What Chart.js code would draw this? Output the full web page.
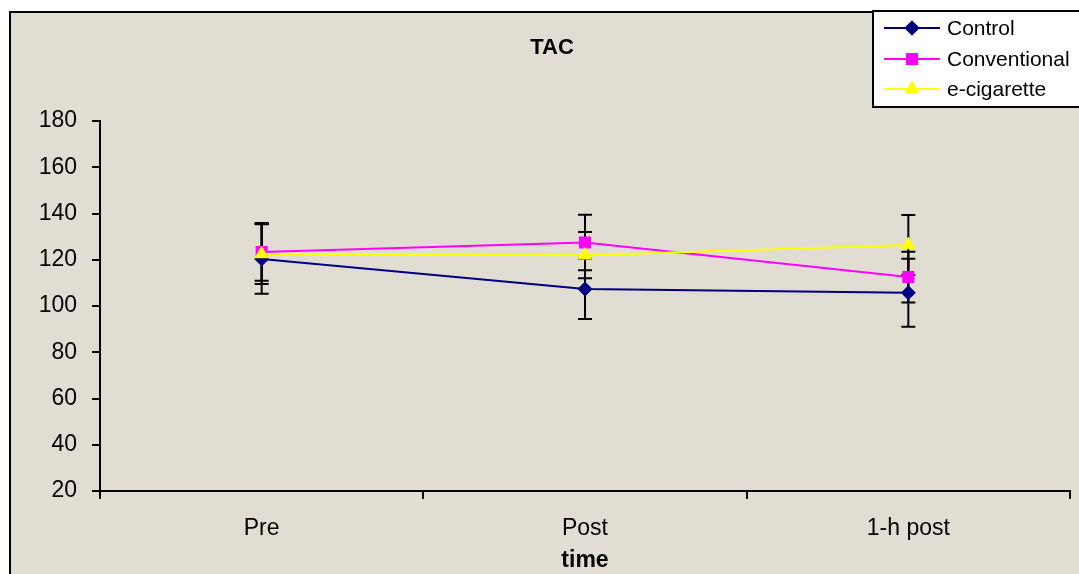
<!DOCTYPE html>
<html>
<head>
<meta charset="utf-8">
<script src="https://cdn.jsdelivr.net/npm/chart.js@4"></script>
<style>
  html, body { margin: 0; padding: 0; background: #fff; }
  #wrap { width: 1079px; height: 574px; position: relative; }
</style>
</head>
<body>
<div id="wrap"><canvas id="chartTAC" width="1079" height="574"></canvas></div>
<script>
// TAC over time, three groups
const timeLabels = ["Pre", "Post", "1-h post"];
const seriesNames = ["Control", "Conventional", "e-cigarette"];
const controlValues = [120.3, 107.4, 105.7];
const conventionalValues = [123.4, 127.5, 112.5];
const ecigValues = [122.5, 122, 126.4];
const controlErr = [15, 13, 14.7];
const conventionalErr = [12.5, 12, 11];
const ecigErr = [13, 10, 13];
const yTicks = [20, 40, 60, 80, 100, 120, 140, 160, 180];

const FONT = "Arial, 'Liberation Sans', sans-serif";

const styles = [
  { color: "#000080", point: "rectRot", radius: 7.5 },
  { color: "#ff00ff", point: "rect", radius: 8.5 },
  { color: "#ffff00", point: "triangle", radius: 8.5 }
];

const allValues = [controlValues, conventionalValues, ecigValues];
const allErr = [controlErr, conventionalErr, ecigErr];

/* background + frame */
const frame = {
  id: "frame",
  beforeDraw(chart) {
    const ctx = chart.ctx;
    ctx.save();
    ctx.fillStyle = "#ffffff";
    ctx.fillRect(0, 0, chart.width, chart.height);
    ctx.fillStyle = "#e2ddd2";
    ctx.fillRect(10, 12, chart.width, chart.height);
    ctx.strokeStyle = "#000";
    ctx.lineWidth = 2;
    ctx.beginPath();
    ctx.moveTo(10, chart.height + 5);
    ctx.lineTo(10, 12);
    ctx.lineTo(chart.width + 5, 12);
    ctx.stroke();
    ctx.restore();
  }
};

/* error bars, drawn under the markers */
const errorBars = {
  id: "errorBars",
  beforeDatasetsDraw(chart) {
    const ctx = chart.ctx;
    const x = chart.scales.x, y = chart.scales.y;
    ctx.save();
    ctx.strokeStyle = "#000";
    ctx.lineWidth = 2;
    allValues.forEach((vals, s) => {
      vals.forEach((v, i) => {
        const px = x.getPixelForValue(i);
        const top = y.getPixelForValue(v + allErr[s][i]);
        const bot = y.getPixelForValue(v - allErr[s][i]);
        ctx.beginPath();
        ctx.moveTo(px, top); ctx.lineTo(px, bot);
        ctx.moveTo(px - 7, top); ctx.lineTo(px + 7, top);
        ctx.moveTo(px - 7, bot); ctx.lineTo(px + 7, bot);
        ctx.stroke();
      });
    });
    ctx.restore();
  }
};

/* title, axis title, legend box */
const decorations = {
  id: "decorations",
  afterDraw(chart) {
    const ctx = chart.ctx;
    ctx.save();
    ctx.fillStyle = "#000";
    ctx.textAlign = "center";
    ctx.textBaseline = "middle";
    ctx.font = "bold 22px " + FONT;
    ctx.fillText("TAC", 552, 48);
    ctx.font = "bold 23px " + FONT;
    ctx.fillText("time", 585, 561);

    // legend
    ctx.fillStyle = "#ffffff";
    ctx.fillRect(873, 11, 210, 96);
    ctx.strokeStyle = "#000";
    ctx.lineWidth = 2;
    ctx.strokeRect(873, 11, 210, 96);
    const rows = [28, 59, 89];
    seriesNames.forEach((name, i) => {
      const st = styles[i];
      ctx.strokeStyle = st.color;
      ctx.lineWidth = 2;
      ctx.beginPath();
      ctx.moveTo(884, rows[i]); ctx.lineTo(940, rows[i]);
      ctx.stroke();
      ctx.fillStyle = st.color;
      Chart.helpers.drawPoint(ctx, { pointStyle: st.point, radius: st.radius, borderWidth: 0, rotation: 0 }, 912, rows[i]);
      ctx.fill();
      ctx.fillStyle = "#000";
      ctx.font = "21px " + FONT;
      ctx.textAlign = "left";
      ctx.fillText(name, 947, rows[i] + 1);
    });
    ctx.restore();
  }
};

const datasets = seriesNames.map((name, i) => ({
  label: name,
  data: allValues[i],
  borderColor: styles[i].color,
  backgroundColor: styles[i].color,
  borderWidth: 2,
  pointStyle: styles[i].point,
  pointRadius: styles[i].radius,
  pointBorderWidth: 0,
  pointBackgroundColor: styles[i].color,
  tension: 0,
  order: 2 - i
}));

new Chart(document.getElementById("chartTAC"), {
  type: "line",
  data: { labels: timeLabels, datasets },
  plugins: [frame, errorBars, decorations],
  options: {
    responsive: false,
    animation: false,
    events: [],
    layout: { padding: { top: 121, right: 9, left: 0, bottom: 0 } },
    plugins: { legend: { display: false }, title: { display: false }, tooltip: { enabled: false } },
    scales: {
      x: {
        offset: true,
        grid: { offset: true, drawOnChartArea: false, color: "#000", lineWidth: 2, tickLength: 8 },
        border: { color: "#000", width: 2 },
        ticks: { color: "#000", font: { family: FONT, size: 23 }, padding: 16, maxRotation: 0 },
        afterFit(scale) { scale.height = 83; }
      },
      y: {
        min: 20,
        max: 180,
        afterBuildTicks(scale) { scale.ticks = yTicks.map(v => ({ value: v })); },
        grid: { drawOnChartArea: false, color: "#000", lineWidth: 2, tickLength: 8 },
        border: { color: "#000", width: 2 },
        ticks: { color: "#000", font: { family: FONT, size: 23 }, padding: 15 },
        afterFit(scale) { scale.width = 100; }
      }
    }
  }
});
</script>
</body>
</html>
